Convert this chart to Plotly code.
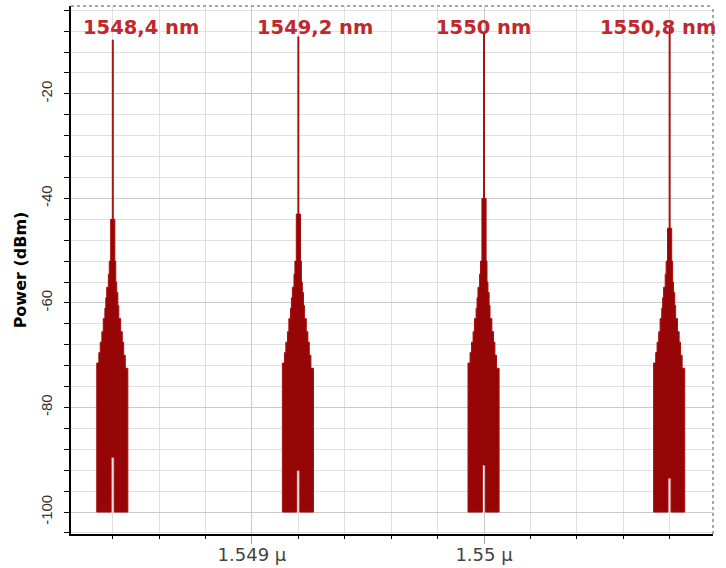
import plotly.graph_objects as go

# ---------------- data ----------------
peak_center_nm = [1548.4, 1549.2, 1550.0, 1550.8]
peak_power_dbm = [-9.7, -9.1, -8.3, -7.2]
shoulder_dbm = [-44.0, -43.0, -40.0, -45.7]
notch_top_dbm = [-89.5, -92.0, -91.0, -93.5]
noise_floor_dbm = -100.0

# stepped spectral envelope around each carrier (offset from centre, nm)
step_edge_nm = [-0.069, -0.060, -0.054, -0.047, -0.041, -0.034, -0.030, -0.026,
                -0.019, -0.015, -0.009, -0.002, 0.002, 0.009, 0.013, 0.017,
                0.022, 0.026, 0.034, 0.041, 0.047, 0.054, 0.065]
left_step_dbm = [-71.5, -69.5, -67.5, -65.5, -63.0, -61.0, -59.0, -57.0, -54.5, -52.0]
right_step_dbm = [-52.0, -56.0, -58.0, -60.5, -63.0, -65.5, -67.5, -70.0, -72.5]
notch_edge_nm = [-0.007, 0.006]

label_text = ["1548,4 nm", "1549,2 nm", "1550 nm", "1550,8 nm"]
x_tick_um = [1.549, 1.550]
x_tick_text = ["1.549 \u00b5", "1.55 \u00b5"]
y_tick_dbm = [-100, -80, -60, -40, -20]
y_tick_text = ["-100", "-80", "-60", "-40", "-20"]

# ---------------- figure ----------------
fig = go.Figure()

for c, pk, sh, nt in zip(peak_center_nm, peak_power_dbm, shoulder_dbm, notch_top_dbm):
    levels = left_step_dbm + [sh, pk, sh] + right_step_dbm
    xs, ys = [], []
    xs.append(c + step_edge_nm[0]); ys.append(noise_floor_dbm)
    for i, lv in enumerate(levels):
        xs += [c + step_edge_nm[i], c + step_edge_nm[i + 1]]
        ys += [lv, lv]
    xs.append(c + step_edge_nm[-1]); ys.append(noise_floor_dbm)
    # central notch at the bottom
    xs += [c + notch_edge_nm[1], c + notch_edge_nm[1], c + notch_edge_nm[0], c + notch_edge_nm[0]]
    ys += [noise_floor_dbm, nt, nt, noise_floor_dbm]
    xs.append(c + step_edge_nm[0]); ys.append(noise_floor_dbm)
    fig.add_trace(go.Scatter(
        x=[v / 1000.0 for v in xs], y=ys, mode="lines", fill="toself",
        fillcolor="#960606", line=dict(color="#a80f0f", width=1),
        showlegend=False, hoverinfo="skip"))

label_xshift_px = [28, 17, -1, -12]
for c, txt, dx in zip(peak_center_nm, label_text, label_xshift_px):
    fig.add_annotation(x=c / 1000.0, xref="x", y=0.960, yref="paper",
                       text=txt, showarrow=False, xanchor="center", yanchor="middle",
                       xshift=dx,
                       font=dict(family="DejaVu Sans", size=19.5, color="#C0282D", weight="bold"))

fig.update_layout(
    width=726, height=568,
    margin=dict(l=71, r=13, t=6, b=34),
    plot_bgcolor="white", paper_bgcolor="white",
    shapes=[
        dict(type="line", xref="paper", yref="paper", x0=0, x1=1, y0=1, y1=1,
             line=dict(color="#8a8a8a", width=1.5, dash="dot")),
        dict(type="line", xref="paper", yref="paper", x0=1, x1=1, y0=0, y1=1,
             line=dict(color="#8a8a8a", width=1.5, dash="dot")),
    ],
)

fig.update_xaxes(
    range=[1.548220, 1.550987], automargin=False,
    tickmode="array", tickvals=x_tick_um, ticktext=x_tick_text,
    ticks="outside", ticklen=8, tickcolor="#a0a0a0", tickwidth=1,
    tickfont=dict(family="DejaVu Sans", size=18, color="#444444"),
    ticklabelstandoff=-5,
    showline=True, linecolor="black", linewidth=2,
    showgrid=True, gridcolor="#cacaca", gridwidth=1,
    zeroline=False,
    minor=dict(tickmode="linear", tick0=1.549, dtick=0.0002, ticks="outside",
               ticklen=3, tickcolor="black", showgrid=True, gridcolor="#e0e0e0", gridwidth=1),
)

fig.update_yaxes(
    range=[-104.2, -3.2], automargin=False,
    tickmode="array", tickvals=y_tick_dbm, ticktext=y_tick_text, tickangle=-90,
    ticks="outside", ticklen=5, tickcolor="black", tickwidth=1,
    tickfont=dict(family="Liberation Sans", size=15, color="#333333"),
    ticklabelstandoff=6,
    showline=True, linecolor="black", linewidth=2,
    showgrid=True, gridcolor="#cacaca", gridwidth=1,
    zeroline=False,
    minor=dict(tickmode="linear", tick0=-100, dtick=4, ticks="outside",
               ticklen=5, tickcolor="black", showgrid=True, gridcolor="#e0e0e0", gridwidth=1),
    title=dict(text="Power (dBm)", standoff=7,
               font=dict(family="DejaVu Sans", size=16, color="black", weight="bold")),
)

fig.write_html("out.html")
